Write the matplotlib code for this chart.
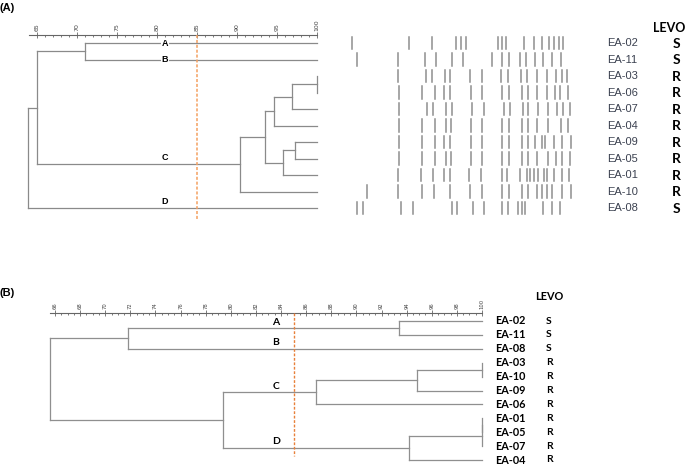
import matplotlib
matplotlib.use("Agg")
import numpy as np
import matplotlib.pyplot as plt
from matplotlib.ticker import FixedLocator

W, H = 685, 466

# ---- panel A data ----
leaves_a = ["EA-02", "EA-11", "EA-03", "EA-06", "EA-07", "EA-04",
            "EA-09", "EA-05", "EA-01", "EA-10", "EA-08"]
levo_a = ["S", "S", "R", "R", "R", "R", "R", "R", "R", "R", "S"]
# merges: (child1, child2, similarity) ; new node ids start after the leaves
merges_a = [(2, 3, 100.0), (11, 4, 96.9), (12, 5, 94.6), (6, 7, 97.2),
            (14, 8, 95.7), (13, 15, 93.5), (16, 9, 90.4), (0, 1, 71.0),
            (18, 17, 65.0), (19, 10, 63.9)]
# cluster letter -> node whose branch carries the letter
clusters_a = [("A", 0), ("B", 1), ("C", 17), ("D", 10)]

# band positions (relative migration units) for each lane of the gel
bands_a = [
    [65, 237, 305, 377, 392, 408, 503, 516, 528, 583, 612, 637, 658, 672, 687, 700],
    [80, 205, 285, 318, 365, 400, 485, 517, 538, 570, 588, 615, 640, 665, 692],
    [205, 287, 307, 345, 360, 420, 455, 513, 535, 572, 590, 620, 650, 678, 695, 710],
    [207, 277, 315, 343, 360, 423, 457, 515, 538, 575, 593, 622, 650, 675, 690, 715],
    [207, 292, 310, 347, 365, 427, 462, 522, 540, 578, 595, 623, 653, 680, 698, 720],
    [207, 277, 315, 347, 362, 423, 457, 515, 538, 575, 593, 622, 653, 693, 715],
    [207, 277, 315, 343, 360, 423, 457, 515, 538, 575, 593, 615, 637, 645, 672, 697, 722],
    [207, 277, 315, 347, 362, 423, 457, 515, 538, 575, 595, 622, 653, 678, 697, 720],
    [205, 273, 310, 343, 360, 417, 452, 517, 532, 570, 590, 600, 612, 625, 643, 652, 673, 695, 718],
    [112, 205, 275, 312, 360, 420, 455, 515, 538, 575, 593, 620, 635, 650, 665, 695, 722],
    [82, 100, 213, 248, 365, 382, 430, 462, 517, 535, 565, 575, 585, 640, 665, 690],
]

# ---- panel B data ----
leaves_b = ["EA-02", "EA-11", "EA-08", "EA-03", "EA-10", "EA-09",
            "EA-06", "EA-01", "EA-05", "EA-07", "EA-04"]
levo_b = ["S", "S", "S", "R", "R", "R", "R", "R", "R", "R", "R"]
merges_b = [(0, 1, 93.4), (11, 2, 71.8), (3, 4, 100.0), (13, 5, 94.8),
            (14, 6, 86.8), (7, 8, 100.0), (16, 9, 100.0), (17, 10, 94.2),
            (15, 18, 79.4), (12, 19, 65.6)]
clusters_b = [("A", 11), ("B", 2), ("C", 15), ("D", 18)]

cutoff = 85


def px_axes(fig, left, top, right, bottom):
    return fig.add_axes([left / W, 1 - bottom / H, (right - left) / W, (bottom - top) / H])


def draw_tree(ax, n_leaves, merges, color):
    xs = {i: 100.0 for i in range(n_leaves)}
    ys = {i: float(i) for i in range(n_leaves)}
    for k, (a, b, s) in enumerate(merges):
        node = n_leaves + k
        ax.plot([s, s], [ys[a], ys[b]], color=color, lw=0.9, clip_on=False)
        for c in (a, b):
            ax.plot([s, xs[c]], [ys[c], ys[c]], color=color, lw=0.9, clip_on=False)
        xs[node] = s
        ys[node] = (ys[a] + ys[b]) / 2
    return ys


def scale_axis(ax, lo, hi, major, minor, fs, start):
    for side in ("left", "right", "bottom"):
        ax.spines[side].set_visible(False)
    ax.spines["top"].set_color("#666666")
    ax.spines["top"].set_linewidth(0.8)
    ax.spines["top"].set_bounds(start, hi)
    ax.xaxis.tick_top()
    ax.set_xticks(range(lo, hi + 1, major))
    ax.xaxis.set_minor_locator(FixedLocator(np.arange(lo, hi + minor / 2, minor)))
    ax.tick_params(axis="x", which="major", direction="inout", length=4, width=0.6,
                   color="#666666", labelsize=fs, labelcolor="#444444",
                   labelrotation=90, pad=1)
    ax.tick_params(axis="x", which="minor", direction="in", length=1.5, width=0.6,
                   color="#666666")
    ax.set_yticks([])


fig = plt.figure(figsize=(W / 100, H / 100), dpi=100)

# ================= panel A =================
fig.text(0 / W, 1 - 8 / H, "(A)", fontsize=8, fontweight="bold",
         family="Liberation Sans", va="center", ha="left")

row0_a, step_a = 43, 16.5
axa = px_axes(fig, 21, 35, 317, 222)
axa.set_xlim(63, 100)
axa.set_ylim((222 - row0_a) / step_a, (35 - row0_a) / step_a)
scale_axis(axa, 65, 100, 5, 1, 4.5, 64)
ys_a = draw_tree(axa, len(leaves_a), merges_a, "#8a8a8a")
axa.plot([cutoff, cutoff], [(35 - row0_a) / step_a, (219 - row0_a) / step_a],
         color="#F4A060", lw=1.1, ls=(0, (2, 1.2)), clip_on=False, zorder=3)
for lab, node in clusters_a:
    if lab in ("A", "B"):
        axa.text(81, ys_a[node], lab, fontsize=6.5, fontweight="bold",
                 family="Liberation Sans", ha="center", va="center", zorder=4,
                 bbox=dict(boxstyle="square,pad=0.1", fc="white", ec="none"))
    else:
        axa.text(81, ys_a[node] - 0.12, lab, fontsize=6.5, fontweight="bold",
                 family="Liberation Sans", ha="center", va="bottom", zorder=4)

# gel lanes
axg = px_axes(fig, 330, 35, 580, 222)
axg.set_xlim(0, 750)
axg.set_ylim((222 - row0_a) / step_a, (35 - row0_a) / step_a)
axg.axis("off")
for i, lane in enumerate(bands_a):
    for b in lane:
        axg.plot([b, b], [i - 0.38, i + 0.38], color="#8e8e8e", lw=1.1)

# labels and LEVO column
axl = px_axes(fig, 600, 35, 685, 222)
axl.set_xlim(0, 85)
axl.set_ylim((222 - row0_a) / step_a, (35 - row0_a) / step_a)
axl.axis("off")
for i, (name, r) in enumerate(zip(leaves_a, levo_a)):
    axl.text(7, i, name, fontsize=8, family="Liberation Sans", color="#3b4150",
             ha="left", va="center")
    axl.text(76, i + 0.05, r, fontsize=10, fontweight="bold", family="Lato",
             ha="center", va="center")
fig.text(669 / W, 1 - 28 / H, "LEVO", fontsize=9, fontweight="bold", family="Lato",
         ha="center", va="center")

# ================= panel B =================
fig.text(0 / W, 1 - 293 / H, "(B)", fontsize=8, fontweight="bold",
         family="Liberation Sans", va="center", ha="left")

row0_b, step_b = 321.0, 13.9
left_b = 55 - 0.5 * 12.56
axb = px_axes(fig, left_b, 313, 482, 466)
axb.set_xlim(65.5, 100)
axb.set_ylim((466 - row0_b) / step_b, (313 - row0_b) / step_b)
scale_axis(axb, 66, 100, 2, 0.5, 3.8, 65.6)
ys_b = draw_tree(axb, len(leaves_b), merges_b, "#8f8f8f")
axb.plot([cutoff, cutoff], [(313 - row0_b) / step_b, (456 - row0_b) / step_b],
         color="#E8803A", lw=1.0, ls=(0, (2, 1.2)), clip_on=False, zorder=3)
for lab, node in clusters_b:
    axb.text(83.6, ys_b[node] - 0.1, lab, fontsize=7.5, fontweight="bold", family="Lato",
             ha="center", va="bottom", zorder=4)

axlb = px_axes(fig, 485, 313, 685, 466)
axlb.set_xlim(0, 200)
axlb.set_ylim((466 - row0_b) / step_b, (313 - row0_b) / step_b)
axlb.axis("off")
for i, (name, r) in enumerate(zip(leaves_b, levo_b)):
    axlb.text(10, i, name, fontsize=7.8, fontweight="bold", family="Lato",
              ha="left", va="center")
    axlb.text(64, i, r, fontsize=7.5, fontweight="bold", family="Lato",
              ha="center", va="center")
fig.text(549 / W, 1 - 297 / H, "LEVO", fontsize=7.8, fontweight="bold", family="Lato",
         ha="center", va="center")

fig.savefig("out.png", dpi=100)
